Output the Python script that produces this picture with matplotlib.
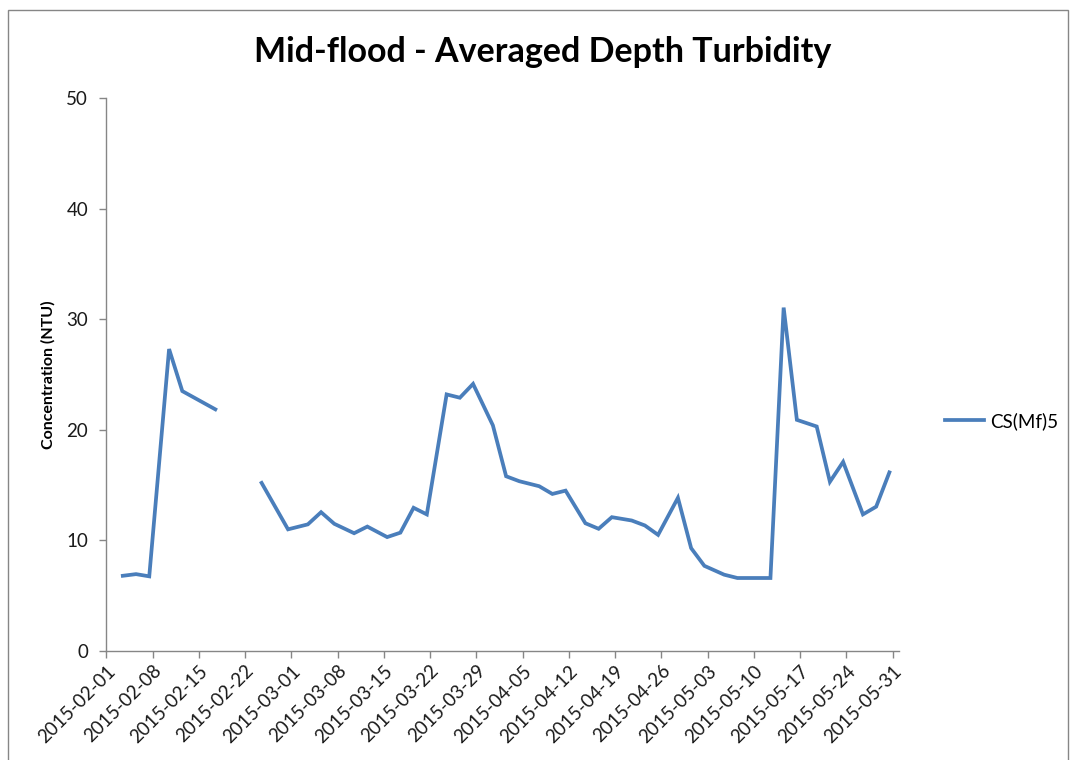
import matplotlib
matplotlib.use("Agg")
import matplotlib.pyplot as plt
import matplotlib.dates as mdates
from matplotlib.patches import Rectangle
import numpy as np
import pandas as pd

# sampling dates and averaged-depth turbidity (NTU); None = no sample
dates = [
    "2015-02-03", "2015-02-05", "2015-02-07", "2015-02-10", "2015-02-12",
    "2015-02-17", "2015-02-20",
    "2015-02-24", "2015-02-28", "2015-03-03", "2015-03-05", "2015-03-07",
    "2015-03-10", "2015-03-12", "2015-03-15", "2015-03-17", "2015-03-19",
    "2015-03-21", "2015-03-24", "2015-03-26", "2015-03-28", "2015-03-31",
    "2015-04-02", "2015-04-04", "2015-04-07", "2015-04-09", "2015-04-11",
    "2015-04-14", "2015-04-16", "2015-04-18", "2015-04-21", "2015-04-23",
    "2015-04-25", "2015-04-28", "2015-04-30", "2015-05-02", "2015-05-05",
    "2015-05-07", "2015-05-09", "2015-05-12", "2015-05-14", "2015-05-16",
    "2015-05-19", "2015-05-21", "2015-05-23", "2015-05-26", "2015-05-28",
    "2015-05-30",
]
turbidity = [
    6.8, 6.95, 6.75, 27.3, 23.5,
    21.85, None,
    15.2, 11.0, 11.45, 12.55, 11.5,
    10.65, 11.25, 10.3, 10.7, 12.95,
    12.35, 23.2, 22.9, 24.15, 20.4,
    15.8, 15.35, 14.9, 14.2, 14.5,
    11.55, 11.05, 12.1, 11.8, 11.35,
    10.5, 13.85, 9.3, 7.7, 6.9,
    6.6, 6.6, 6.6, 31.05, 20.9,
    20.3, 15.3, 17.1, 12.35, 13.05,
    16.15,
]
series_name = "CS(Mf)5"
title = "Mid-flood - Averaged Depth Turbidity"
ylabel = "Concentration (NTU)"

x = pd.to_datetime(dates) + pd.Timedelta(hours=12)  # centred in each day slot
y = np.array([np.nan if v is None else v for v in turbidity])

fig = plt.figure(figsize=(10.71, 7.6), dpi=100)
ax = fig.add_axes([106.3 / 1071, 1 - 651 / 760, (899.3 - 106.3) / 1071, (651 - 98) / 760])

ax.plot(x, y, color="#4A7EBB", lw=2.7, solid_joinstyle="miter", label=series_name)

ax.set_xlim(pd.Timestamp("2015-02-01"), pd.Timestamp("2015-06-01"))
ax.set_ylim(0, 50)
ax.set_yticks(range(0, 51, 10))
ticks = pd.date_range("2015-02-01", "2015-05-31", freq="7D")
ax.set_xticks(ticks)
ax.xaxis.set_major_formatter(mdates.DateFormatter("%Y-%m-%d"))

for side in ("top", "right"):
    ax.spines[side].set_visible(False)
for side in ("left", "bottom"):
    ax.spines[side].set_color("#868686")
    ax.spines[side].set_linewidth(1.0)
ax.tick_params(axis="both", direction="out", length=5, color="#868686", width=1.0,
               labelsize=13.5, labelcolor="#1a1a1a")
ax.tick_params(axis="y", pad=8)
ax.tick_params(axis="x", labelsize=13.5, pad=3)
for lab in ax.get_xticklabels():
    lab.set_rotation(45)
    lab.set_ha("right")
    lab.set_va("top")
    lab.set_rotation_mode("anchor")

for lab in ax.get_xticklabels() + ax.get_yticklabels():
    lab.set_fontfamily("Lato")

ax.set_ylabel(ylabel, fontsize=11.5, fontweight="bold", family="Lato", labelpad=8)
fig.text(543 / 1071, 1 - 52 / 760, title, ha="center", va="center",
         fontsize=24.5, fontweight="bold", family="Lato")

fig.legend(loc="center left", bbox_to_anchor=(945 / 1071, 1 - 421 / 760),
           frameon=False, handlelength=2.1, handletextpad=0.3,
           borderpad=0, borderaxespad=0,
           prop={"family": "Lato", "size": 13.5})

# chart area border
fig.patches.append(Rectangle((8 / 1071, -0.05), (1068 - 8) / 1071, 1.05 - 10 / 760,
                             transform=fig.transFigure, fill=False,
                             edgecolor="#868686", lw=1.0))

fig.savefig("out.png", dpi=100)
